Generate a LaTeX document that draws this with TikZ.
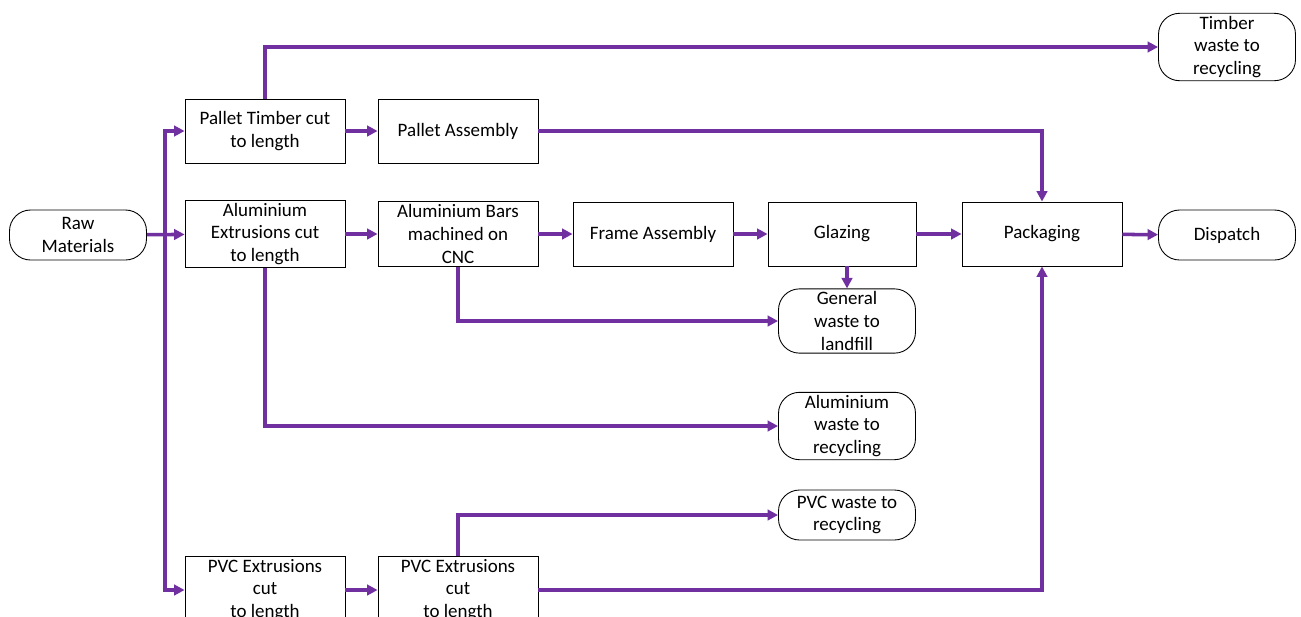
\documentclass[tikz,border=0pt]{standalone}
\usepackage{fontspec}
\setmainfont{Carlito}
\usetikzlibrary{positioning, arrows.meta}
\definecolor{flowpurple}{HTML}{7030A0}
\begin{document}
\begin{tikzpicture}[
    x=0.02cm, y=-0.02cm,
    box/.style={draw, line width=0.5pt, minimum width=3.2cm,
                minimum height=1.28cm, inner sep=1.5pt, align=center,
                font=\fontsize{10.8}{13}\selectfont},
    term/.style={draw, line width=0.5pt, rounded corners=0.42cm,
                 minimum width=2.74cm, minimum height=1cm, inner sep=1.5pt,
                 align=center, font=\fontsize{10.8}{13}\selectfont},
    arrow/.style={->, line width=2pt, flowpurple,
                  >={Triangle[length=6pt, width=6pt]}},
  ]
    \clip (0,0) rectangle (1301,616);
    \fill[white] (0,0) rectangle (1301,616);

    % Start and end
    \node[term] (raw)      at (78, 235)   {Raw\\Materials};
    \node[term] (dispatch) at (1227, 235) {Dispatch};

    % Timber line
    \node[box] (pallet)   at (265, 131) {Pallet Timber cut\\to length};
    \node[box] (assembly) at (458, 131) {Pallet Assembly};

    % Aluminium line
    \node[box] (alu)     at (265, 234) {Aluminium\\Extrusions cut\\to length};
    \node[box] (bars)    at (458, 234) {Aluminium Bars\\machined on\\CNC};
    \node[box] (frame)   at (653, 234) {Frame Assembly};
    \node[box, minimum width=2.96cm] (glazing) at (842, 234) {Glazing};
    \node[box] (pack)    at (1042, 234) {Packaging};

    % PVC line
    \node[box] (pvccut)  at (265, 590) {PVC Extrusions\\cut\\to length};
    \node[box] (pvcmach) at (458, 590) {PVC Extrusions\\cut\\to length};

    % Waste
    \node[term] (timberwaste) at (1227, 47)  {Timber\\waste to\\recycling};
    \node[term] (genwaste)    at (847, 321)  {General\\waste to\\landfill};
    \node[term] (aluwaste)    at (847, 426)  {Aluminium\\waste to\\recycling};
    \node[term] (pvcwaste)    at (847, 515)  {PVC waste to\\recycling};

    \coordinate (split) at (165, 234);

    % Arrows
    \draw[arrow] (raw) -- (alu);
    \draw[arrow] (split) |- (pallet);
    \draw[arrow] (split) |- (pvccut);
    \draw[arrow] (pallet.north) |- (timberwaste);
    \draw[arrow] (pallet) -- (assembly);
    \draw[arrow] (assembly) -| (pack);
    \draw[arrow] (alu) -- (bars);
    \draw[arrow] (bars) -- (frame);
    \draw[arrow] (frame) -- (glazing);
    \draw[arrow] (glazing) -- (pack);
    \draw[arrow] (pack) -- (dispatch);
    \draw[arrow] (genwaste.north |- glazing.south) -- (genwaste.north);
    \draw[arrow] (bars.south) |- (genwaste);
    \draw[arrow] (alu.south) |- (aluwaste);
    \draw[arrow] (pvccut) -- (pvcmach);
    \draw[arrow] (pvcmach.north) |- (pvcwaste);
    \draw[arrow] (pvcmach) -| (pack);
  \end{tikzpicture}
\end{document}
